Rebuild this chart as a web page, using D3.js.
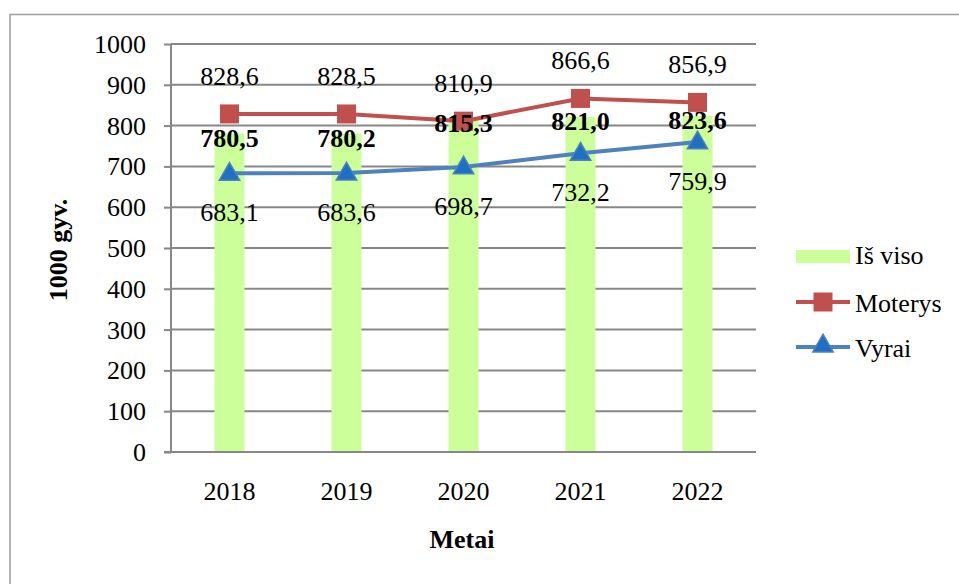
<!DOCTYPE html>
<html>
<head>
<meta charset="utf-8">
<script src="https://cdn.jsdelivr.net/npm/d3@7"></script>
<style>
  body { margin: 0; background: #fff; }
  text { font-family: "Liberation Serif", "Times New Roman", serif; }
</style>
</head>
<body>
<svg id="svg1"></svg>
<script>
// data
const years = ["2018", "2019", "2020", "2021", "2022"];
const total = [780.5, 780.2, 815.3, 821.0, 823.6];
const women = [828.6, 828.5, 810.9, 866.6, 856.9];
const men = [683.1, 683.6, 698.7, 732.2, 759.9];
const yTicks = [0, 100, 200, 300, 400, 500, 600, 700, 800, 900, 1000];

// layout
const width = 959;
const height = 584;
const plot = {left: 171, right: 756, top: 44, bottom: 452};
const fs = 26;

const svg = d3.select('#svg1')
    .attr('width', width)
    .attr('height', height);

// chart border
svg.append("path")
    .attr("d", "M10,584 V14.5 H959")
    .attr("fill", "none")
    .attr("stroke", "#9b9b9b")
    .attr("stroke-width", 1.5);

const x = d3.scaleBand()
    .domain(years)
    .range([plot.left, plot.right]);

const y = d3.scaleLinear()
    .domain([0, 1000])
    .range([plot.bottom, plot.top]);

const fmt = v => d3.format(".1f")(v).replace(".", ",");

// gridlines + y axis
const yAxis = svg.append("g")
    .attr("transform", "translate(" + plot.left + ",0)")
    .call(d3.axisLeft(y).tickValues(yTicks).tickSize(7).tickFormat(d3.format("d")));
yAxis.select(".domain").remove();
yAxis.selectAll("line").attr("stroke", "#878787").attr("stroke-width", 2);
yAxis.selectAll("text")
    .attr("x", -25)
    .attr("dy", "0.33em")
    .attr("font-size", fs)
    .attr("fill", "#000")
    .style("font-family", "Liberation Serif");

svg.append("g")
    .selectAll("line")
    .data(yTicks)
    .enter()
    .append("line")
    .attr("x1", plot.left)
    .attr("x2", plot.right)
    .attr("y1", d => y(d))
    .attr("y2", d => y(d))
    .attr("stroke", "#878787")
    .attr("stroke-width", 2);

svg.append("line")
    .attr("x1", plot.left).attr("x2", plot.left)
    .attr("y1", plot.top).attr("y2", plot.bottom)
    .attr("stroke", "#878787")
    .attr("stroke-width", 2);

// bars
const barW = 30;
svg.selectAll("rect.bar")
    .data(years)
    .enter()
    .append("rect")
    .attr("class", "bar")
    .attr("x", (d) => x(d) + x.bandwidth() / 2 - barW / 2)
    .attr("y", (d, i) => y(total[i]))
    .attr("width", barW)
    .attr("height", (d, i) => plot.bottom - y(total[i]))
    .attr("fill", "#ccff99");

// redraw baseline above bars
svg.append("line")
    .attr("x1", plot.left - 7).attr("x2", plot.right)
    .attr("y1", y(0)).attr("y2", y(0))
    .attr("stroke", "#878787")
    .attr("stroke-width", 2);

// x labels
svg.append("g")
    .selectAll("text")
    .data(years)
    .enter()
    .append("text")
    .attr("x", d => x(d) + x.bandwidth() / 2)
    .attr("y", 500)
    .attr("text-anchor", "middle")
    .attr("font-size", fs)
    .text(d => d);

const cx = (d, i) => x(years[i]) + x.bandwidth() / 2;

// lines
const line = d3.line()
    .x((d, i) => cx(d, i))
    .y(d => y(d));

svg.append("path")
    .datum(women)
    .attr("d", line)
    .attr("fill", "none")
    .attr("stroke", "#c0504d")
    .attr("stroke-width", 4);

svg.append("path")
    .datum(men)
    .attr("d", line)
    .attr("fill", "none")
    .attr("stroke", "#4f81bd")
    .attr("stroke-width", 4);

// markers
const sq = 19;
svg.selectAll("rect.sq")
    .data(women)
    .enter()
    .append("rect")
    .attr("class", "sq")
    .attr("x", (d, i) => cx(d, i) - sq / 2)
    .attr("y", d => y(d) - sq / 2)
    .attr("width", sq)
    .attr("height", sq)
    .attr("fill", "#c0504d");

const tri = d3.symbol().type(d3.symbolTriangle).size(180);
svg.selectAll("path.tri")
    .data(men)
    .enter()
    .append("path")
    .attr("class", "tri")
    .attr("d", tri)
    .attr("transform", (d, i) => "translate(" + cx(d, i) + "," + (y(d) + 1) + ")")
    .attr("fill", "#1f6fc4")
    .attr("stroke", "#4f81bd")
    .attr("stroke-width", 1.5);

// data labels
svg.append("g")
    .selectAll("text")
    .data(women)
    .enter()
    .append("text")
    .attr("x", (d, i) => cx(d, i))
    .attr("y", d => y(d) - 29)
    .attr("text-anchor", "middle")
    .attr("font-size", fs)
    .text(fmt);

svg.append("g")
    .selectAll("text")
    .data(total)
    .enter()
    .append("text")
    .attr("x", (d, i) => cx(d, i))
    .attr("y", d => y(d) + 13)
    .attr("text-anchor", "middle")
    .attr("font-size", fs)
    .attr("font-weight", "bold")
    .text(fmt);

svg.append("g")
    .selectAll("text")
    .data(men)
    .enter()
    .append("text")
    .attr("x", (d, i) => cx(d, i))
    .attr("y", d => y(d) + 48)
    .attr("text-anchor", "middle")
    .attr("font-size", fs)
    .text(fmt);

// axis titles
svg.append("text")
    .attr("transform", "translate(67,250)rotate(-90)")
    .attr("text-anchor", "middle")
    .attr("font-size", fs)
    .attr("font-weight", "bold")
    .text("1000 gyv.");

svg.append("text")
    .attr("x", 462)
    .attr("y", 548)
    .attr("text-anchor", "middle")
    .attr("font-size", fs)
    .attr("font-weight", "bold")
    .text("Metai");

// legend
const legend = svg.append("g").attr("transform", "translate(796,0)");
legend.append("rect")
    .attr("x", 0).attr("y", 250).attr("width", 54).attr("height", 13)
    .attr("fill", "#ccff99");
legend.append("line")
    .attr("x1", 0).attr("x2", 54).attr("y1", 302).attr("y2", 302)
    .attr("stroke", "#c0504d").attr("stroke-width", 4);
legend.append("rect")
    .attr("x", 27 - sq / 2).attr("y", 302 - sq / 2).attr("width", sq).attr("height", sq)
    .attr("fill", "#c0504d");
legend.append("line")
    .attr("x1", 0).attr("x2", 54).attr("y1", 347).attr("y2", 347)
    .attr("stroke", "#4f81bd").attr("stroke-width", 4);
legend.append("path")
    .attr("d", tri)
    .attr("transform", "translate(27,346)")
    .attr("fill", "#1f6fc4")
    .attr("stroke", "#4f81bd")
    .attr("stroke-width", 1.5);

const legendNames = ["Iš viso", "Moterys", "Vyrai"];
const legendY = [264, 312, 357];
legend.selectAll("text.lg")
    .data(legendNames)
    .enter()
    .append("text")
    .attr("class", "lg")
    .attr("x", 59)
    .attr("y", (d, i) => legendY[i])
    .attr("font-size", fs)
    .text(d => d);
</script>
</body>
</html>
